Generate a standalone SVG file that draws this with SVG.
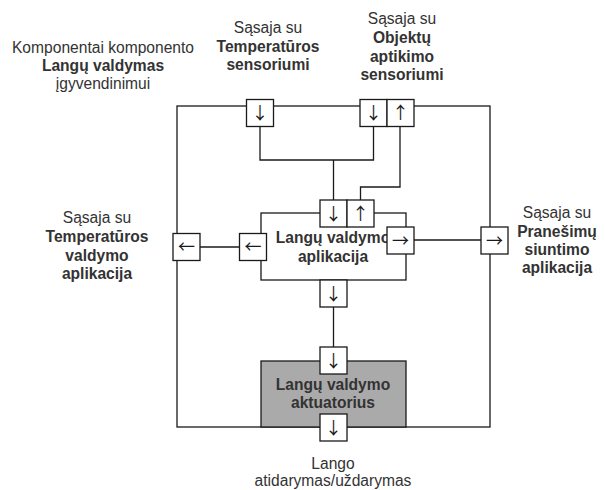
<svg xmlns="http://www.w3.org/2000/svg" width="605" height="490" viewBox="0 0 605 490">
<style>
.ln{fill:none;stroke:#1a1a1a;stroke-width:1.3}
.port rect{fill:#fff;stroke:#1a1a1a;stroke-width:1.3}
.port text{font-family:"Noto Sans CJK SC","DejaVu Sans",sans-serif;font-size:17px;fill:#1a1a1a;text-anchor:middle}
.t{font-family:"Liberation Sans",Arial,sans-serif;font-size:15.6px;fill:#333;text-anchor:middle}
.b{font-weight:bold}
</style>
<rect width="605" height="490" fill="#fff"/>
<g id="outer"><rect class="ln" x="177" y="106" width="313" height="321"/></g>
<g id="connectors">
<polyline class="ln" points="260,126 260,160 373.5,160 373.5,126"/>
<line class="ln" x1="333.5" y1="160" x2="333.5" y2="200"/>
<polyline class="ln" points="360.5,200 360.5,187 400,187 400,126"/>
<line class="ln" x1="200" y1="247" x2="239.5" y2="247"/>
<line class="ln" x1="414" y1="240" x2="481" y2="240"/>
<line class="ln" x1="333.5" y1="307" x2="333.5" y2="347"/>
</g>
<g id="app">
<rect class="ln" x="261" y="213" width="145" height="67" style="fill:#fff"/>
<text class="t b" x="333" y="243">Langų valdymo</text>
<text class="t b" x="333" y="262">aplikacija</text>
</g>
<g id="actuator">
<rect x="261" y="361" width="145" height="66" fill="#aaaaaa" stroke="#1a1a1a" stroke-width="1.3"/>
<text class="t b" x="333" y="390">Langų valdymo</text>
<text class="t b" x="333" y="408">aktuatorius</text>
</g>
<g id="port-temp-sensor" class="port"><rect x="246.5" y="99.5" width="27" height="27"/><text x="260" y="119">↓</text></g>
<g id="port-obj-in" class="port"><rect x="360" y="99.5" width="27" height="27"/><text x="373.5" y="119">↓</text></g>
<g id="port-obj-out" class="port"><rect x="387" y="99.5" width="27" height="27"/><text x="400.5" y="119">↑</text></g>
<g id="port-app-in" class="port"><rect x="320" y="200" width="27" height="27"/><text x="333.5" y="219.5">↓</text></g>
<g id="port-app-out" class="port"><rect x="347" y="200" width="27" height="27"/><text x="360.5" y="219.5">↑</text></g>
<g id="port-app-left" class="port"><rect x="239.5" y="233.5" width="27" height="27"/><text x="253" y="253">←</text></g>
<g id="port-outer-left" class="port"><rect x="173" y="233.5" width="27" height="27"/><text x="186.5" y="253">←</text></g>
<g id="port-app-right" class="port"><rect x="387" y="227" width="27" height="27"/><text x="400.5" y="246.5">→</text></g>
<g id="port-outer-right" class="port"><rect x="481" y="227" width="27" height="27"/><text x="494.5" y="246.5">→</text></g>
<g id="port-app-bottom" class="port"><rect x="320" y="280" width="27" height="27"/><text x="333.5" y="299.5">↓</text></g>
<g id="port-act-in" class="port"><rect x="320" y="347" width="27" height="27"/><text x="333.5" y="366.5">↓</text></g>
<g id="port-act-out" class="port"><rect x="320" y="414" width="27" height="27"/><text x="333.5" y="433.5">↓</text></g>
<g id="label-component">
<text class="t" x="103" y="53">Komponentai komponento</text>
<text class="t b" x="103" y="71">Langų valdymas</text>
<text class="t" x="103" y="89">įgyvendinimui</text>
</g>
<g id="label-temp-sensor">
<text class="t" x="268" y="33">Sąsaja su</text>
<text class="t b" x="268" y="52">Temperatūros</text>
<text class="t b" x="268" y="70">sensoriumi</text>
</g>
<g id="label-obj-sensor">
<text class="t" x="402" y="24">Sąsaja su</text>
<text class="t b" x="402" y="43">Objektų</text>
<text class="t b" x="402" y="62">aptikimo</text>
<text class="t b" x="402" y="80">sensoriumi</text>
</g>
<g id="label-temp-app">
<text class="t" x="97" y="223">Sąsaja su</text>
<text class="t b" x="97" y="242">Temperatūros</text>
<text class="t b" x="97" y="261">valdymo</text>
<text class="t b" x="97" y="279">aplikacija</text>
</g>
<g id="label-msg-app">
<text class="t" x="557" y="218">Sąsaja su</text>
<text class="t b" x="557" y="237">Pranešimų</text>
<text class="t b" x="557" y="255">siuntimo</text>
<text class="t b" x="557" y="273">aplikacija</text>
</g>
<g id="label-window">
<text class="t" x="333" y="469">Lango</text>
<text class="t" x="333" y="486">atidarymas/uždarymas</text>
</g>
</svg>
